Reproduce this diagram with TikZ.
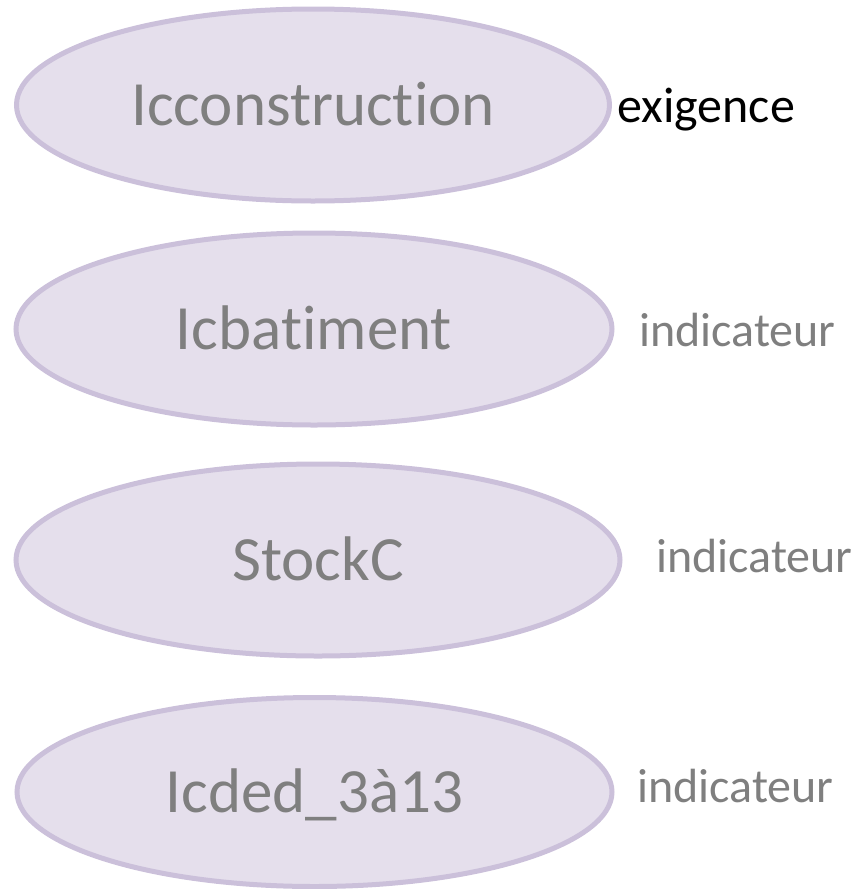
\documentclass[tikz,border=0pt]{standalone}
\usepackage{fontspec}
\setmainfont{Carlito}[Ligatures=NoCommon]
\usetikzlibrary{shapes.geometric}
\definecolor{ovalfill}{HTML}{E5DFEC}
\definecolor{ovaldraw}{HTML}{CBC0DA}
\definecolor{textgray}{HTML}{7F7F7F}
\begin{document}
\begin{tikzpicture}[x=0.5pt,y=-0.5pt]
\tikzstyle{oval}=[ellipse, draw=ovaldraw, fill=ovalfill, line width=2.5pt, inner sep=0pt, minimum height=96pt, text=textgray, font=\fontsize{31.5}{36}\selectfont, text height=20.5pt, text depth=0pt]
\tikzstyle{tag}=[anchor=base west, text=textgray, inner sep=0pt, font=\fontsize{24}{28}\selectfont]
%\draw[help lines] (0,0) grid[step=100] (853,889);

\useasboundingbox (0,0) rectangle (853,889);

\node [oval, minimum width=296.5pt] (icconstruction) at (313,105) {Icconstruction};
\node [oval, minimum width=298pt] (icbatiment) at (314,329) {Icbatiment};
\node [oval, minimum width=302pt] (stockc) at (318,560) {StockC};
\node [oval, minimum width=297.5pt, minimum height=94.5pt] (icded) at (314.5,792) {Icded\_3à13};

\node [tag, text=black, font=\fontsize{25}{30}\selectfont] (tagconstruction) at (617,122) {exigence};
\foreach \name/\x/\y in {batiment/639/346, stockc/656/572, icded/637/802} {
\node [tag] (tag\name) at (\x,\y) {indicateur};
}

\end{tikzpicture}
\end{document}
